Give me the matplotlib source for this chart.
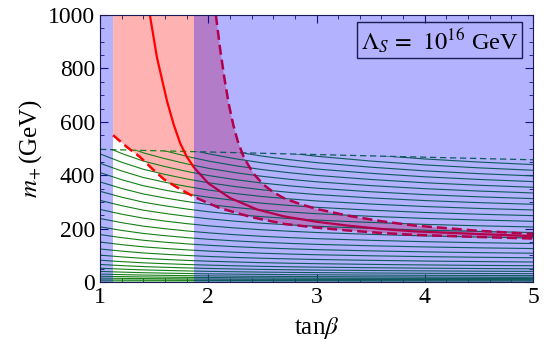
import numpy as np
import matplotlib
matplotlib.use('Agg')
import matplotlib.pyplot as plt
from matplotlib.patches import Polygon
from matplotlib.ticker import MultipleLocator

plt.rcParams['font.family'] = ['Liberation Serif', 'DejaVu Serif']
plt.rcParams['mathtext.fontset'] = 'stix'

# red band: lower dashed, upper dashed and central solid curve
lowX = [1.12, 1.25, 1.37, 1.48, 1.59, 1.73, 1.87, 2.1, 2.4, 2.7, 3.0, 3.3, 3.6, 3.9, 4.5, 5.0]
lowY = [550, 505, 468, 425, 385, 350, 319, 278, 243, 218, 204, 193, 184, 177, 169, 163]
upX = [2.07, 2.11, 2.15, 2.19, 2.23, 2.27, 2.33, 2.42, 2.51, 2.6, 2.7, 2.85, 3.0, 3.3, 3.6, 3.9, 4.5, 5.0]
upY = [1000, 870, 760, 665, 590, 530, 465, 405, 365, 337, 314, 292, 274, 248, 228, 212, 192, 180]
midX = [1.46, 1.525, 1.617, 1.68, 1.74, 1.8, 1.87, 2.0, 2.2, 2.45, 2.7, 3.0, 3.3, 3.6, 3.9, 4.5, 5.0]
midY = [1000, 842, 680, 590, 520, 470, 428, 370, 315, 272, 246, 226, 211, 199, 190, 180, 172]

# blue excluded strips in tan(beta)
blueLeft = [1.0, 1.12]
blueRight = [1.87, 5.0]

# green contour family: value at tanb=1 times a common shape
contX = [1.0, 1.2, 1.4, 1.6, 1.8, 2.0, 2.25, 2.5, 2.75, 3.0, 3.5, 4.0, 4.5, 5.0]
contShape = [1.0, 0.935, 0.88, 0.84, 0.805, 0.775, 0.745, 0.72, 0.70, 0.683, 0.657, 0.636, 0.62, 0.607]
contLevels = [8, 15, 22, 30, 40, 52, 66, 82, 101, 124, 150, 178, 207, 238, 272, 306, 340,
              375, 410, 445, 480, 515, 550, 585, 620, 655, 690, 725, 760]
cutX = [1.0, 5.0]
cutY = [497, 458]
bandX = [1, 2, 3, 4, 5]
bandY = [11, 13, 16, 19, 22]

fig = plt.figure(figsize=(5.5, 3.5), dpi=100)
ax = fig.add_axes([0.182, 0.194, 0.787, 0.763])

# pink band between the dashed curves
px = lowX + upX[::-1] + [lowX[0]]
py = lowY + upY[::-1] + [1000]
ax.fill(px, py, color='red', alpha=0.3, lw=0, zorder=1)

ax.fill_between(bandX, 0, bandY, color='green', alpha=0.4, lw=0, zorder=2)

green = '#167f16'
clip = Polygon([(cutX[0], 0), (cutX[0], cutY[0]), (cutX[1], cutY[1]), (cutX[1], 0)],
               transform=ax.transData, facecolor='none', edgecolor='none')
for lev in contLevels:
    ln, = ax.plot(contX, lev * np.array(contShape), color=green, lw=0.8, zorder=3)
    ln.set_clip_path(clip)
ax.plot(cutX, cutY, color=green, lw=0.9, dashes=(5, 3), zorder=3)

ax.plot(midX, midY, color='red', lw=1.6, zorder=4)
ax.plot(lowX, lowY, color='red', lw=1.8, dashes=(4, 2), zorder=4)
ax.plot(upX, upY, color='red', lw=1.8, dashes=(4, 2), zorder=4)

ax.axvspan(blueLeft[0], blueLeft[1], color='blue', alpha=0.3, lw=0, zorder=5)
ax.axvspan(blueRight[0], blueRight[1], color='blue', alpha=0.3, lw=0, zorder=5)

ax.text(0.785, 0.906, r'$\Lambda_S\,=\;\,10^{16}$ GeV', transform=ax.transAxes,
        ha='center', va='center', fontsize=17.5, zorder=6,
        bbox=dict(boxstyle='square,pad=0.15', facecolor='none', edgecolor='#1a1a50', lw=1))

ax.set_xlim(1, 5)
ax.set_ylim(0, 1000)
ax.xaxis.set_major_locator(MultipleLocator(1))
ax.xaxis.set_minor_locator(MultipleLocator(0.2))
ax.yaxis.set_major_locator(MultipleLocator(200))
ax.yaxis.set_minor_locator(MultipleLocator(50))
ax.tick_params(which='both', direction='in', top=True, right=True, colors='#1a1a50',
               labelcolor='black', labelsize=17)
ax.tick_params(which='major', length=6)
ax.tick_params(which='minor', length=3)
for s in ax.spines.values():
    s.set_color('#1a1a50')
    s.set_zorder(7)

ax.set_xlabel(r'tan$\beta$', fontsize=18, labelpad=5)
ax.set_ylabel(r'$m_{+}\,$(GeV)', fontsize=18, labelpad=3)

fig.savefig('out.png', dpi=100)
